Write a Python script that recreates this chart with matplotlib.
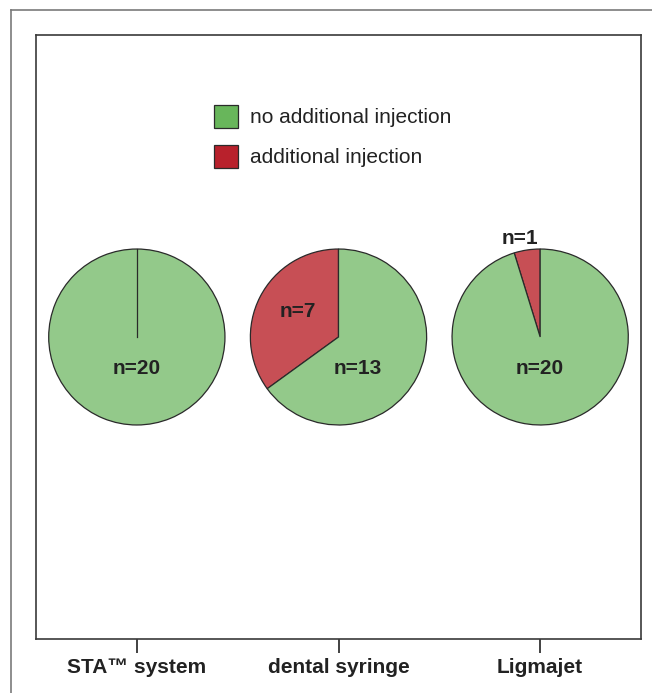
import matplotlib.pyplot as plt
from matplotlib.patches import Patch
from matplotlib.lines import Line2D

plt.rcParams['font.family'] = ['Liberation Sans', 'DejaVu Sans']

groups = ["STA\u2122 system", "dental syringe", "Ligmajet"]
additional = [0, 7, 1]
no_additional = [20, 13, 20]

# label offsets from the pie centre (data units)
red_label_pos = [None, (-0.20, 0.125), (-0.10, 0.49)]
green_label_pos = [(0.0, -0.155), (0.095, -0.155), (0.0, -0.155)]

pie_green = "#93c98a"
pie_red = "#c74f55"
leg_green = "#68b65b"
leg_red = "#b8212c"
edge = "#2a2a2a"

fig = plt.figure(figsize=(6.52, 6.93), dpi=100)
ax = fig.add_axes([36 / 652, 54 / 693, 605 / 652, 604 / 693])

radius = 0.437
for i in range(len(groups)):
    ax.pie([additional[i], no_additional[i]], colors=[pie_red, pie_green],
           startangle=90, counterclock=True, center=(i, 1.5), radius=radius,
           frame=True, wedgeprops=dict(edgecolor=edge, linewidth=0.9))
    if additional[i] == 0:
        # empty wedge still leaves its edge line
        ax.plot([i, i], [1.5, 1.5 + radius], color=edge, lw=0.9)
    if red_label_pos[i] is not None:
        dx, dy = red_label_pos[i]
        ax.text(i + dx, 1.5 + dy, "n=%d" % additional[i], ha="center", va="center",
                fontsize=15, fontweight="bold", color="#222222")
    dx, dy = green_label_pos[i]
    ax.text(i + dx, 1.5 + dy, "n=%d" % no_additional[i], ha="center", va="center",
            fontsize=15, fontweight="bold", color="#222222")

ax.set_xlim(-0.5, 2.5)
ax.set_ylim(0, 3)
ax.set_aspect("auto")
ax.set_xticks(range(len(groups)))
ax.set_xticklabels(groups, fontsize=15, fontweight="bold", color="#222222")
ax.set_yticks([])
ax.tick_params(axis="x", length=10, width=1.3, color="#333333", pad=4)
for s in ax.spines.values():
    s.set_color("#3a3a3a")
    s.set_linewidth(1.2)

handles = [Patch(facecolor=leg_green, edgecolor=edge, linewidth=0.9),
           Patch(facecolor=leg_red, edgecolor=edge, linewidth=0.9)]
ax.legend(handles, ["no additional injection", "additional injection"],
          loc="upper left", bbox_to_anchor=(0.294, 0.884), frameon=False,
          fontsize=15, handlelength=1.15, handleheight=1.3, handletextpad=0.6,
          labelspacing=0.82, borderpad=0, borderaxespad=0, labelcolor="#222222")

# outer frame
fig.add_artist(Line2D([11 / 652, 11 / 652], [0, 1 - 10 / 693], color="#7a7a7a", lw=1.2))
fig.add_artist(Line2D([11 / 652, 1], [1 - 10 / 693, 1 - 10 / 693], color="#7a7a7a", lw=1.2))

fig.savefig("out.png", dpi=100)
